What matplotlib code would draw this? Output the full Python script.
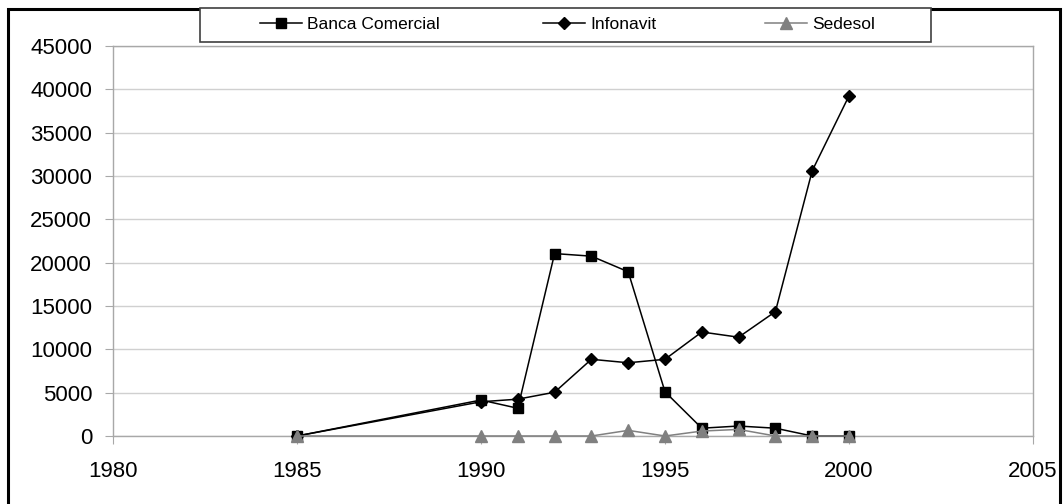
import matplotlib
matplotlib.use("Agg")
import matplotlib.pyplot as plt
from matplotlib.patches import Rectangle

# data
years_banca = [1985, 1990, 1991, 1992, 1993, 1994, 1995, 1996, 1997, 1998, 1999, 2000]
banca = [0, 4150, 3200, 21050, 20750, 18950, 5100, 900, 1150, 900, 0, 0]

years_info = [1985, 1990, 1991, 1992, 1993, 1994, 1995, 1996, 1997, 1998, 1999, 2000]
infonavit = [0, 3950, 4250, 5050, 8850, 8450, 8850, 12000, 11400, 14350, 30600, 39250]

years_sedesol = [1985, 1990, 1991, 1992, 1993, 1994, 1995, 1996, 1997, 1998, 1999, 2000]
sedesol = [0, 0, 0, 0, 0, 650, 0, 570, 760, 0, 0, 0]

xticks = [1980, 1985, 1990, 1995, 2000, 2005]
yticks = list(range(0, 45001, 5000))
labels = ['Banca Comercial', 'Infonavit', 'Sedesol']

plt.rcParams['font.family'] = ['Liberation Sans', 'DejaVu Sans']

W, H = 1063, 504
fig = plt.figure(figsize=(W / 100, H / 100), dpi=100)
ax = fig.add_axes([113 / W, 1 - 436 / H, 920 / W, 390 / H])

# outer chart frame
fig.patches.append(Rectangle((8 / W, -0.05), 1052 / W, 1.05 - 9 / H,
                             transform=fig.transFigure, fill=False,
                             edgecolor='black', linewidth=2.2, zorder=0))

grid_c = '#d0d0d0'
l1, = ax.plot(years_banca, banca, color='black', marker='s', markersize=7.5,
              linewidth=1.1, zorder=3, clip_on=False)
l2, = ax.plot(years_info, infonavit, color='black', marker='D', markersize=6.5,
              linewidth=1.1, zorder=3, clip_on=False)
l3, = ax.plot(years_sedesol, sedesol, color='#808080', marker='^', markersize=8.5,
              linewidth=1.1, zorder=4, clip_on=False)

ax.set_xlim(1980, 2005)
ax.set_ylim(0, 45000)
ax.set_xticks(xticks)
ax.set_yticks(yticks)
ax.yaxis.grid(True, color=grid_c, linewidth=1)
ax.set_axisbelow(True)
for s in ax.spines.values():
    s.set_color('#a8a8a8')
    s.set_linewidth(1)
ax.tick_params(axis='both', direction='out', length=6, color='#a8a8a8',
               labelsize=16, labelcolor='black')
ax.tick_params(axis='y', pad=9)
ax.tick_params(axis='x', pad=12)

# legend box across the top of the frame
fig.patches.append(Rectangle((200 / W, 1 - 42 / H), 731 / W, 34 / H,
                             transform=fig.transFigure, fill=True, facecolor='white',
                             edgecolor='#404040', linewidth=1.2, zorder=5))
# one entry per legend so each sits where Excel put it
starts = [260, 543, 765]
for line, lab, x0 in zip([l1, l2, l3], labels, starts):
    leg = fig.legend([line], [lab], loc='center left',
                     bbox_to_anchor=(x0 / W, 1 - 24 / H),
                     frameon=False, borderpad=0, borderaxespad=0,
                     handlelength=2.4, handletextpad=0.3,
                     prop={'size': 12.5})
    leg.set_zorder(6)

fig.savefig('out.png', dpi=100)
